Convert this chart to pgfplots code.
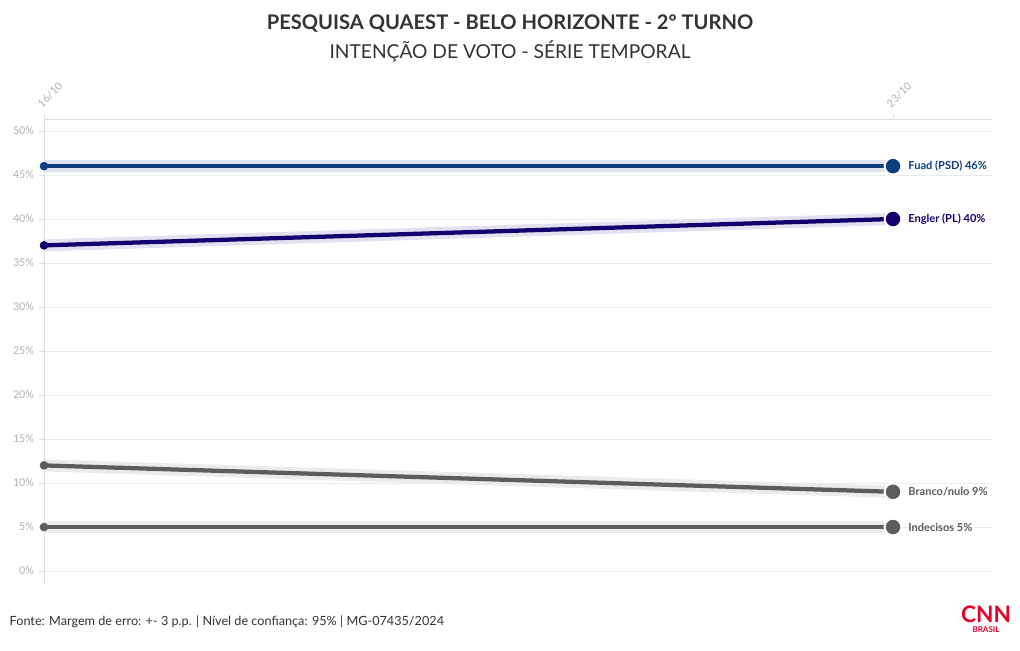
\documentclass[border=0pt]{standalone}
\usepackage{fontspec}
\setmainfont{Lato}
\usepackage{pgfplots}
\pgfplotsset{compat=1.18}
\definecolor{fuad}{HTML}{0B3F7F}
\definecolor{engler}{HTML}{16006E}
\definecolor{cinza}{HTML}{5C5C5C}
\definecolor{bandF}{HTML}{DFE4F0}
\definecolor{bandE}{HTML}{E3E0F2}
\definecolor{bandG}{HTML}{EBEBEB}
\definecolor{tickc}{HTML}{B0B0B0}
\definecolor{gridc}{HTML}{EBEBEB}
\definecolor{axc}{HTML}{DDDDDD}
\definecolor{cnnred}{HTML}{E4002B}
\definecolor{txt}{HTML}{333333}
\begin{document}
\begin{tikzpicture}[x=0.75pt,y=0.75pt]
\path[use as bounding box, fill=white] (0,0) rectangle (1020,650);
\node[font=\bfseries\fontsize{15.1}{18}\selectfont, text=txt] at (510,626) {PESQUISA QUAEST - BELO HORIZONTE - 2º TURNO};
\node[font=\fontsize{14.4}{18}\selectfont, text=txt] at (510,599) {INTENÇÃO DE VOTO - SÉRIE TEMPORAL};
\begin{axis}[at={(33pt,50.25pt)}, anchor=south west, scale only axis,
  width=711pt, height=348pt,
  xmin=0, xmax=1.1166, ymin=-1.36, ymax=51.36,
  axis x line=top, axis y line=left,
  axis line style={draw=axc, line width=0.6pt, -},
  ytick={0,5,...,50},
  yticklabel={\pgfmathprintnumber{\tick}\%},
  yticklabel style={text=tickc, font=\fontsize{8}{9}\selectfont},
  ymajorgrids, grid style={draw=gridc, line width=0.6pt},
  tick style={draw=axc, line width=0.6pt},
  tick align=outside, major tick length=4pt,
  xtick={0,1}, xticklabels={16/10,23/10},
  xticklabel style={rotate=45, anchor=south west, text=tickc, font=\fontsize{8}{9}\selectfont, xshift=-1.5pt},
  major x tick style={draw=axc},
  clip=false,
  /pgf/number format/assume math mode=true,
]
% bands
\addplot[bandF, line width=9pt] coordinates {(0,46)(1,46)};
\addplot[bandE, line width=9pt] coordinates {(0,37)(1,40)};
\addplot[bandG, line width=9pt] coordinates {(0,12)(1,9)};
\addplot[bandG, line width=9pt] coordinates {(0,5)(1,5)};
% lines
\addplot[fuad, line width=3.2pt] coordinates {(0,46)(1,46)};
\addplot[engler, line width=3.2pt] coordinates {(0,37)(1,40)};
\addplot[cinza, line width=3.2pt] coordinates {(0,12)(1,9)};
\addplot[cinza, line width=3.2pt] coordinates {(0,5)(1,5)};
% start markers
\addplot[only marks, mark=*, mark size=3pt, fuad] coordinates {(0,46)};
\addplot[only marks, mark=*, mark size=3pt, engler] coordinates {(0,37)};
\addplot[only marks, mark=*, mark size=3pt, cinza] coordinates {(0,12)(0,5)};
% end markers
\addplot[only marks, mark=*, mark size=6.3pt, mark options={fill=fuad, draw=white, line width=1.5pt}] coordinates {(1,46)};
\addplot[only marks, mark=*, mark size=6.3pt, mark options={fill=engler, draw=white, line width=1.5pt}] coordinates {(1,40)};
\addplot[only marks, mark=*, mark size=6.3pt, mark options={fill=cinza, draw=white, line width=1.5pt}] coordinates {(1,9)(1,5)};
% labels
\node[anchor=west, text=fuad, font=\bfseries\fontsize{8.3}{9}\selectfont, xshift=8pt] at (axis cs:1,46) {Fuad (PSD) 46\%};
\node[anchor=west, text=engler, font=\bfseries\fontsize{8.3}{9}\selectfont, xshift=8pt] at (axis cs:1,40) {Engler (PL) 40\%};
\node[anchor=west, text=cinza, font=\bfseries\fontsize{8.3}{9}\selectfont, xshift=8pt] at (axis cs:1,9) {Branco/nulo 9\%};
\node[anchor=west, text=cinza, font=\bfseries\fontsize{8.3}{9}\selectfont, xshift=8pt] at (axis cs:1,5) {Indecisos 5\%};
\end{axis}
\node[anchor=west, font=\fontsize{9.5}{11}\selectfont, text=txt] at (5,28) {Fonte: Margem de erro: +- 3 p.p. | Nível de confiança: 95\% | MG-07435/2024};
\node[font=\bfseries\fontsize{17}{18}\selectfont, text=cnnred] at (986,36) {CNN};
\node[font=\bfseries\fontsize{6}{7}\selectfont, text=cnnred] at (986,20) {BRASIL};
\end{tikzpicture}
\end{document}
